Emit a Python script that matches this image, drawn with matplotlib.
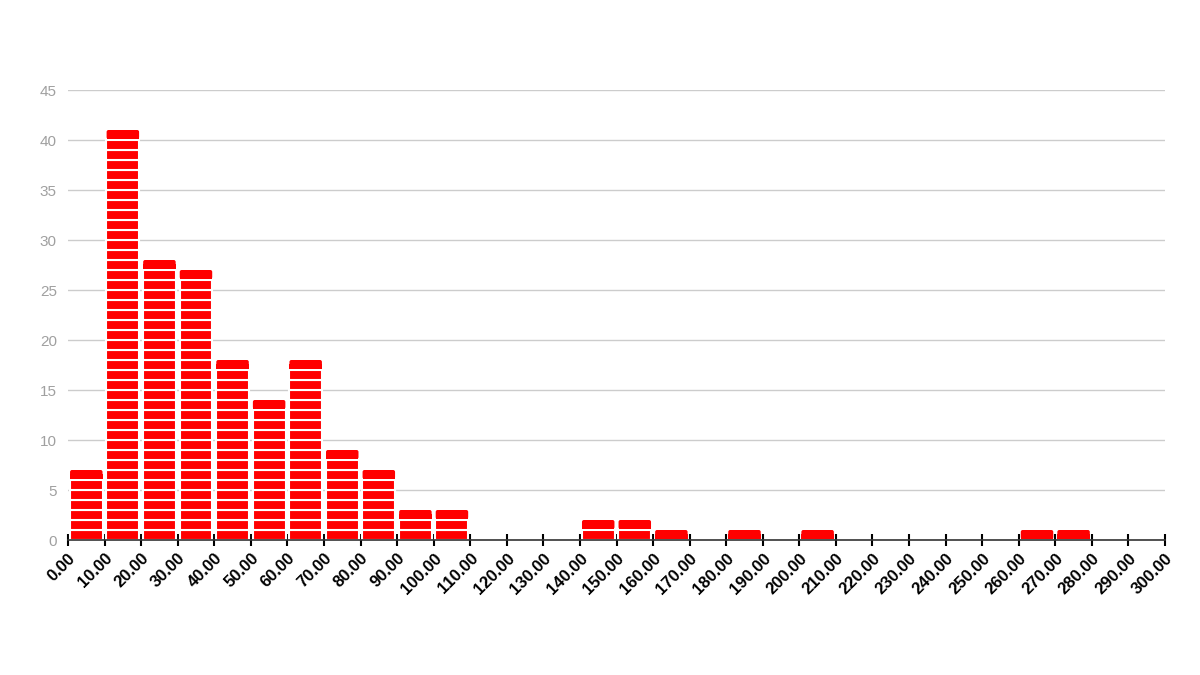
import numpy as np
import matplotlib.pyplot as plt
from matplotlib.patches import FancyBboxPatch

# 直方图数据（每个区间宽 10）
bin_starts = list(range(0, 300, 10))
counts = [7, 41, 28, 27, 18, 14, 18, 9, 7, 3,
          3, 0, 0, 0, 2, 2, 1, 0, 1, 0,
          1, 0, 0, 0, 0, 0, 1, 1, 0, 0]
tick_values = list(range(0, 310, 10))
y_ticks = [0, 5, 10, 15, 20, 25, 30, 35, 40, 45]

plt.rcParams['font.family'] = ['Liberation Sans', 'DejaVu Sans']

fig = plt.figure(figsize=(12, 6.75), dpi=100)
ax = fig.add_axes([68 / 1200, 1 - 540 / 675, (1165 - 68) / 1200, 450 / 675])

red = '#ff0000'
bar_w = 9.0
for x0, c in zip(bin_starts, counts):
    if c == 0:
        continue
    left = x0 + 0.5
    # 下面的格子：普通矩形
    if c > 1:
        ax.bar([left] * (c - 1), 1, bottom=np.arange(c - 1), width=bar_w, align='edge',
               color=red, edgecolor='white', linewidth=1.5, zorder=3)
    # 最上面一格：上角圆角
    top = c - 1
    patch = FancyBboxPatch((left + 0.06, top + 0.1), bar_w - 0.12, 0.9,
                           boxstyle='round,pad=0,rounding_size=0.5',
                           mutation_aspect=0.4, facecolor=red, edgecolor='none', zorder=3)
    ax.add_patch(patch)
    ax.bar(left + 0.06, 0.5, bottom=top + 0.1, width=bar_w - 0.12, align='edge',
           color=red, edgecolor='none', zorder=3)

ax.set_xlim(0, 300)
ax.set_ylim(0, 45)
ax.set_xticks(tick_values)
ax.set_xticklabels([f'{v:.2f}' for v in tick_values], rotation=45, ha='right',
                   rotation_mode='anchor', fontsize=12, fontweight='bold', color='black')
ax.set_yticks(y_ticks)
ax.set_yticklabels([str(v) for v in y_ticks], fontsize=11, color='#a0a0a0')

ax.tick_params(axis='x', direction='inout', length=9, width=1.5, color='black', pad=3)
ax.tick_params(axis='y', length=0, pad=8)

ax.grid(axis='y', color='#cccccc', linewidth=1, zorder=0)
ax.set_axisbelow(True)
for s in ['top', 'right', 'left']:
    ax.spines[s].set_visible(False)
ax.spines['bottom'].set_color('#333333')
ax.spines['bottom'].set_linewidth(1.2)
ax.spines['bottom'].set_zorder(4)

fig.savefig('out.png', dpi=100)
